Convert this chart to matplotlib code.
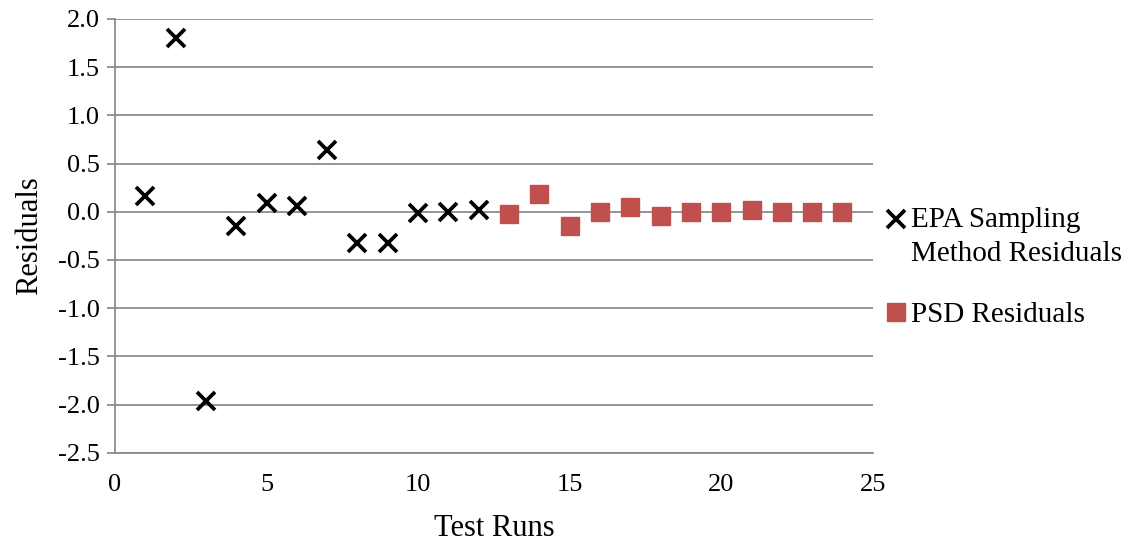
import matplotlib

matplotlib.use("Agg")

import matplotlib.pyplot as plt

epa_runs = [1, 2, 3, 4, 5, 6, 7, 8, 9, 10, 11, 12]
epa_residuals = [0.16, 1.80, -1.96, -0.15, 0.09, 0.06, 0.64, -0.32, -0.32, -0.01, 0.0, 0.02]

psd_runs = [13, 14, 15, 16, 17, 18, 19, 20, 21, 22, 23, 24]
psd_residuals = [-0.02, 0.18, -0.15, 0.0, 0.05, -0.04, 0.0, 0.0, 0.02, 0.0, 0.0, 0.0]

x_ticks = [0, 5, 10, 15, 20, 25]
y_ticks = [-2.5, -2.0, -1.5, -1.0, -0.5, 0.0, 0.5, 1.0, 1.5, 2.0]

plt.rcParams["font.family"] = ["Liberation Serif", "DejaVu Serif"]

GRID = "#8c8c8c"

fig = plt.figure(figsize=(11.32, 5.41), dpi=100)
ax = fig.add_axes([0.1016, 0.163, 0.6694, 0.802])

ax.plot(epa_runs, epa_residuals, linestyle="none", marker="x", markersize=12.5,
        markeredgewidth=2.7, color="black", label="EPA Sampling\nMethod Residuals")
ax.plot(psd_runs, psd_residuals, linestyle="none", marker="s", markersize=13.5,
        color="#c0504d", markeredgecolor="#c0504d", label="PSD Residuals", zorder=3)

ax.set_xlim(0, 25)
ax.set_ylim(-2.5, 2.0)
ax.set_xticks(x_ticks)
ax.set_yticks(y_ticks)
ax.set_yticklabels([f"{v:.1f}" for v in y_ticks])
ax.tick_params(axis="y", labelsize=19, length=6, width=1.3, color=GRID, pad=5)
ax.tick_params(axis="x", labelsize=19, length=0, pad=15)

ax.yaxis.grid(True, color=GRID, linewidth=1.3)
ax.set_axisbelow(True)
for side in ["top", "right"]:
    ax.spines[side].set_visible(False)
for side in ["left", "bottom"]:
    ax.spines[side].set_color(GRID)
    ax.spines[side].set_linewidth(1.3)

ax.set_xlabel("Test Runs", fontsize=22, labelpad=13)
ax.set_ylabel("Residuals", fontsize=22, labelpad=10)

leg = ax.legend(loc="upper left", bbox_to_anchor=(0.779, 0.618),
                bbox_transform=fig.transFigure, frameon=False, fontsize=21,
                handletextpad=0.0, handlelength=1.0, labelspacing=1.2,
                borderaxespad=0.0, borderpad=0.0)
leg.get_texts()[0].set_linespacing(1.4)

# keep the cross beside the first line of the two-line label
cross = leg.legend_handles[0]
cross.set_ydata([y + 12.5 for y in cross.get_ydata()])

fig.savefig("out.png", dpi=100, facecolor="white")
plt.close(fig)
